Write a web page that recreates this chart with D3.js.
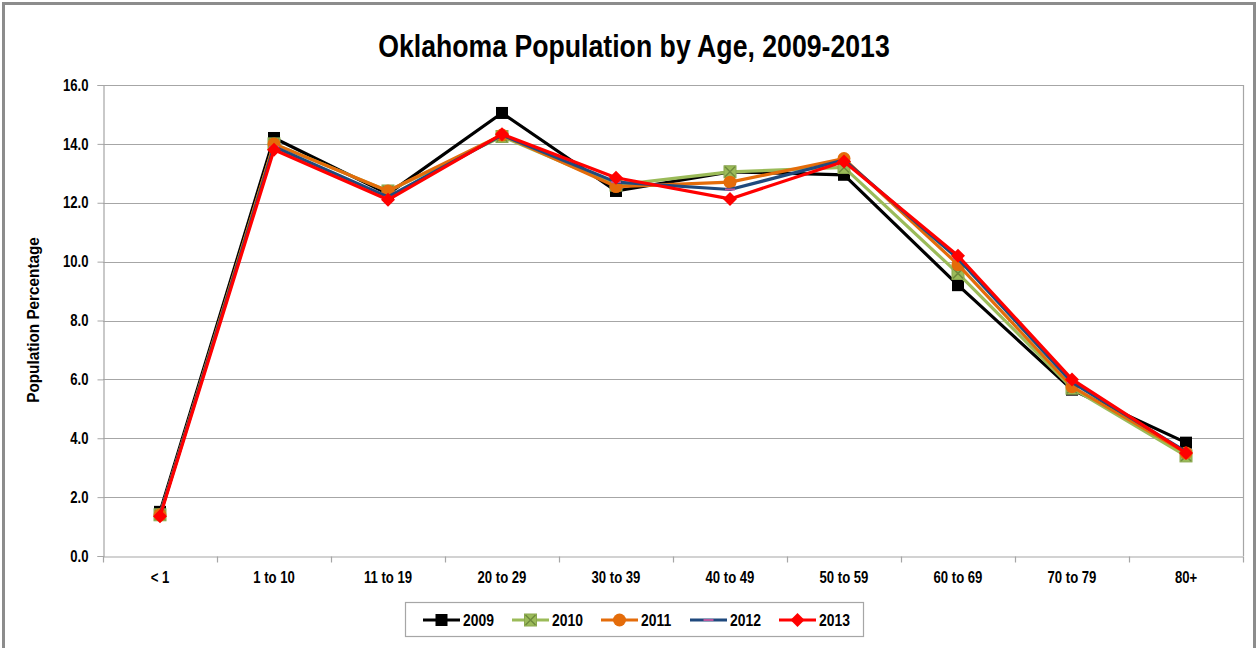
<!DOCTYPE html>
<html><head><meta charset="utf-8">
<script src="https://cdn.jsdelivr.net/npm/d3@7"></script>
<style>
html,body{margin:0;padding:0;background:#fff;}
text{font-family:'Liberation Sans Narrow','Arial Narrow','Liberation Sans',Arial,sans-serif;font-weight:bold;}
</style></head>
<body><svg id="c" width="1259" height="648"></svg>
<script>
const categories = ["< 1","1 to 10","11 to 19","20 to 29","30 to 39","40 to 49","50 to 59","60 to 69","70 to 79","80+"];
const years = ["2009","2010","2011","2012","2013"];
const v2009 = [1.5, 14.2, 12.3, 15.05, 12.4, 13.05, 12.95, 9.2, 5.65, 3.85];
const v2010 = [1.4, 14.0, 12.4, 14.25, 12.6, 13.05, 13.2, 9.6, 5.7, 3.4];
const v2011 = [1.4, 14.0, 12.4, 14.3, 12.55, 12.7, 13.5, 9.9, 5.75, 3.5];
const v2012 = [1.4, 13.9, 12.2, 14.3, 12.7, 12.45, 13.45, 10.1, 5.9, 3.55];
const v2013 = [1.35, 13.8, 12.1, 14.33, 12.85, 12.13, 13.4, 10.2, 6.0, 3.5];
const yTicks = [0,2,4,6,8,10,12,14,16];
const colors = ["#000000","#9bbb59","#e46c0a","#1f497d","#ff0000"];
const seriesValues = [v2009,v2010,v2011,v2012,v2013];

// emulate a condensed face when no narrow font is installed
function narrow(sel, sx){
  sel.each(function(){
    const t = d3.select(this);
    const x0 = +t.attr("x") || 0;
    t.attr("transform", `translate(${x0},0) scale(${sx},1) translate(${-x0},0)`);
  });
}

const svg = d3.select("#c");
svg.append("rect").attr("x",3.5).attr("y",3.5).attr("width",1251).attr("height",700)
  .attr("fill","none").attr("stroke","#8c8c8c").attr("stroke-width",3);

const L=103, R=1243, T=85, B=556;
const x = d3.scaleBand().domain(categories).range([L,R]);
const y = d3.scaleLinear().domain([0,16]).range([B,T]);

svg.append("text").attr("x",634).attr("y",57).attr("text-anchor","middle")
  .attr("font-size",31).attr("fill","#000").text("Oklahoma Population by Age, 2009-2013")
  .call(narrow,0.86);

svg.append("g").selectAll("line").data(yTicks.filter(d=>d>0)).join("line")
  .attr("x1",L).attr("x2",R).attr("y1",d=>Math.round(y(d))+0.5).attr("y2",d=>Math.round(y(d))+0.5)
  .attr("stroke","#a6a6a6").attr("stroke-width",1.2);
svg.append("line").attr("x1",R+0.5).attr("x2",R+0.5).attr("y1",T).attr("y2",B).attr("stroke","#a6a6a6").attr("stroke-width",1.2);

const ya = svg.append("g").attr("transform",`translate(${L+0.5},0)`)
  .call(d3.axisLeft(y).tickValues(yTicks).tickFormat(d3.format(".1f")).tickSize(6).tickPadding(9));
ya.select(".domain").attr("stroke","#a6a6a6").attr("stroke-width",1.2);
ya.selectAll(".tick line").attr("stroke","#a6a6a6");
ya.selectAll(".tick text").attr("font-size",16).attr("fill","#000").call(narrow,0.82);

const xa = svg.append("g").attr("transform",`translate(0,${B+0.5})`)
  .call(d3.axisBottom(x).tickSize(0).tickPadding(15));
xa.select(".domain").attr("stroke","#a6a6a6").attr("stroke-width",1.2);
xa.selectAll(".tick text").attr("font-size",16).attr("fill","#000").call(narrow,0.82);
xa.append("g").selectAll("line").data(d3.range(categories.length+1)).join("line")
  .attr("x1",i=>Math.round(L+i*x.step())+0.5).attr("x2",i=>Math.round(L+i*x.step())+0.5)
  .attr("y1",0).attr("y2",6).attr("stroke","#a6a6a6").attr("stroke-width",1.2);

svg.append("text").attr("transform","translate(39,320) rotate(-90) scale(0.9,1)").attr("text-anchor","middle")
  .attr("font-size",17).attr("fill","#000").text("Population Percentage");

const cx = d=>x(d)+x.bandwidth()/2;
const line = d3.line().x(d=>cx(d.c)).y(d=>y(d.v));

function marker(g, i, px, py){
  const col = colors[i];
  if(i===0){
    g.append("rect").attr("x",px-6).attr("y",py-6).attr("width",12).attr("height",12).attr("fill","#000");
  } else if(i===1){
    g.append("rect").attr("x",px-6).attr("y",py-6).attr("width",12).attr("height",12).attr("fill","#9bbb59").attr("stroke","#8aa84e");
    g.append("path").attr("d",`M${px-5},${py-5}L${px+5},${py+5}M${px+5},${py-5}L${px-5},${py+5}`).attr("stroke","#6f8a3e").attr("stroke-width",1.5);
  } else if(i===2){
    g.append("circle").attr("cx",px).attr("cy",py).attr("r",6.5).attr("fill",col);
  } else if(i===3){
    g.append("line").attr("x1",px-5).attr("x2",px+5).attr("y1",py).attr("y2",py).attr("stroke","#b8579e").attr("stroke-width",2);
  } else {
    g.append("path").attr("d",`M${px},${py-7}L${px+7},${py}L${px},${py+7}L${px-7},${py}Z`).attr("fill",col);
  }
}

years.forEach((yr,i)=>{
  const data = categories.map((c,j)=>({c, v:seriesValues[i][j]}));
  const g = svg.append("g");
  g.append("path").datum(data).attr("d",line).attr("fill","none").attr("stroke",colors[i])
    .attr("stroke-width",3.2).attr("stroke-linejoin","round");
  data.forEach(d=>marker(g,i,cx(d.c),y(d.v)));
});

const lg = svg.append("g");
lg.append("rect").attr("x",405.5).attr("y",602.5).attr("width",458).attr("height",34)
  .attr("fill","#fff").attr("stroke","#a6a6a6").attr("stroke-width",1.2);
const lx = d3.scalePoint().domain(years).range([423,779]);
years.forEach((yr,i)=>{
  const x0 = lx(yr), yy = 620;
  lg.append("line").attr("x1",x0).attr("x2",x0+37).attr("y1",yy).attr("y2",yy).attr("stroke",colors[i]).attr("stroke-width",3.2);
  marker(lg,i,x0+18.5,yy);
  lg.append("text").attr("x",x0+40).attr("y",yy+6).attr("font-size",17).attr("fill","#000").text(yr).call(narrow,0.82);
});
</script></body></html>
